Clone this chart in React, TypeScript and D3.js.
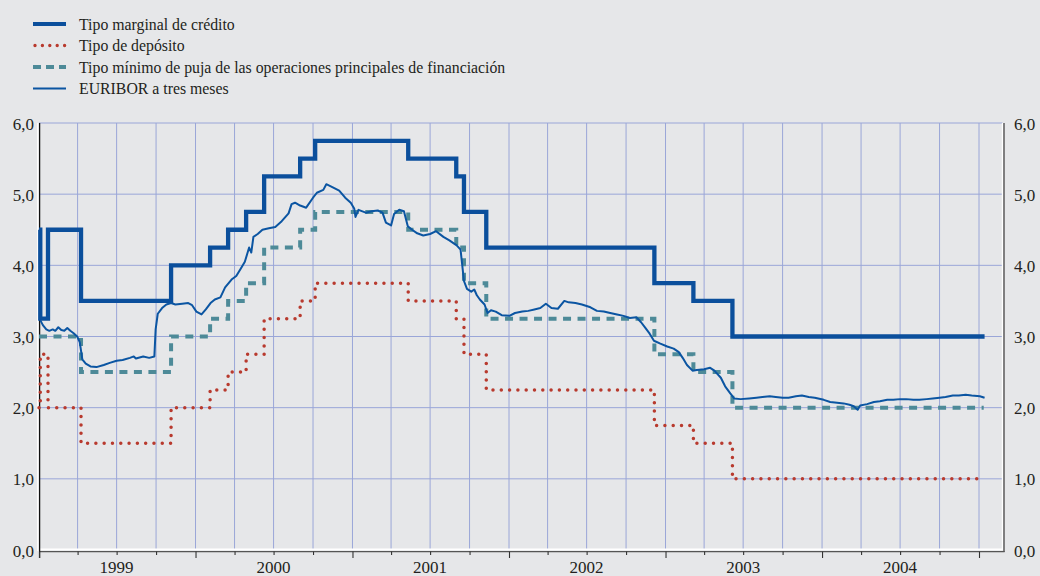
import React from 'react';
import * as d3 from 'd3';

const W = 1040;
const H = 576;

const legendLabels = [
  'Tipo marginal de crédito',
  'Tipo de depósito',
  'Tipo mínimo de puja de las operaciones principales de financiación',
  'EURIBOR a tres meses',
];

const yTicks = [0, 1, 2, 3, 4, 5, 6];
const yearLabels = ['1999', '2000', '2001', '2002', '2003', '2004'];

const marginalRate: [string, number][] = [
  ['1999-01-01', 4.5], ['1999-01-04', 3.25], ['1999-01-22', 4.5], ['1999-04-09', 3.5],
  ['1999-11-05', 4.0], ['2000-02-04', 4.25], ['2000-03-17', 4.5], ['2000-04-28', 4.75],
  ['2000-06-09', 5.25], ['2000-09-01', 5.5], ['2000-10-06', 5.75], ['2001-05-11', 5.5],
  ['2001-08-31', 5.25], ['2001-09-18', 4.75], ['2001-11-09', 4.25], ['2002-12-06', 3.75],
  ['2003-03-07', 3.5], ['2003-06-06', 3.0], ['2005-01-14', 3.0],
];

const depositRate: [string, number][] = [
  ['1999-01-01', 2.0], ['1999-01-04', 2.75], ['1999-01-22', 2.0], ['1999-04-09', 1.5],
  ['1999-11-05', 2.0], ['2000-02-04', 2.25], ['2000-03-17', 2.5], ['2000-04-28', 2.75],
  ['2000-06-09', 3.25], ['2000-09-01', 3.5], ['2000-10-06', 3.75], ['2001-05-11', 3.5],
  ['2001-08-31', 3.25], ['2001-09-18', 2.75], ['2001-11-09', 2.25], ['2002-12-06', 1.75],
  ['2003-03-07', 1.5], ['2003-06-06', 1.0], ['2005-01-12', 1.0],
];

const mroRate: [string, number][] = [
  ['1999-01-01', 3.0], ['1999-04-09', 2.5], ['1999-11-05', 3.0], ['2000-02-04', 3.25],
  ['2000-03-17', 3.5], ['2000-04-28', 3.75], ['2000-06-09', 4.25], ['2000-09-01', 4.5],
  ['2000-10-06', 4.75], ['2001-05-11', 4.5], ['2001-08-31', 4.25], ['2001-09-18', 3.75],
  ['2001-11-09', 3.25], ['2002-12-06', 2.75], ['2003-03-07', 2.5], ['2003-06-06', 2.0],
  ['2005-01-12', 2.0],
];

const euribor3m: [string, number][] = [
  ['1999-01-04', 3.23], ['1999-01-10', 3.16], ['1999-01-18', 3.10], ['1999-01-25', 3.08],
  ['1999-02-02', 3.10], ['1999-02-08', 3.08], ['1999-02-15', 3.13], ['1999-02-22', 3.09],
  ['1999-03-01', 3.08], ['1999-03-08', 3.12], ['1999-03-15', 3.08], ['1999-03-22', 3.05],
  ['1999-03-31', 3.00], ['1999-04-06', 2.92], ['1999-04-12', 2.68], ['1999-04-20', 2.62],
  ['1999-05-01', 2.58], ['1999-05-15', 2.57], ['1999-06-01', 2.60], ['1999-06-15', 2.63],
  ['1999-07-01', 2.66], ['1999-07-15', 2.67], ['1999-08-01', 2.70], ['1999-08-10', 2.72],
  ['1999-08-15', 2.69], ['1999-09-01', 2.72], ['1999-09-15', 2.70], ['1999-09-27', 2.72],
  ['1999-09-30', 3.10], ['1999-10-05', 3.32], ['1999-10-15', 3.40], ['1999-10-25', 3.45],
  ['1999-11-05', 3.47], ['1999-11-15', 3.45], ['1999-12-01', 3.46], ['1999-12-15', 3.47],
  ['1999-12-24', 3.44],
  ['2000-01-03', 3.35], ['2000-01-15', 3.31], ['2000-01-25', 3.38], ['2000-02-05', 3.47],
  ['2000-02-15', 3.52], ['2000-02-28', 3.55], ['2000-03-10', 3.69], ['2000-03-25', 3.80],
  ['2000-04-05', 3.85], ['2000-04-15', 3.95], ['2000-04-25', 4.05], ['2000-05-05', 4.25],
  ['2000-05-10', 4.18], ['2000-05-15', 4.40], ['2000-05-25', 4.44], ['2000-06-05', 4.50],
  ['2000-06-20', 4.52], ['2000-07-05', 4.54], ['2000-07-20', 4.62], ['2000-08-05', 4.73],
  ['2000-08-12', 4.86], ['2000-08-20', 4.88], ['2000-09-01', 4.84], ['2000-09-15', 4.81],
  ['2000-10-01', 4.95], ['2000-10-10', 5.02], ['2000-10-25', 5.06], ['2000-11-01', 5.14],
  ['2000-11-15', 5.10], ['2000-12-01', 5.05], ['2000-12-15', 4.95], ['2000-12-28', 4.88],
  ['2001-01-05', 4.80], ['2001-01-08', 4.68], ['2001-01-15', 4.78], ['2001-02-01', 4.74],
  ['2001-02-15', 4.76], ['2001-03-01', 4.77], ['2001-03-12', 4.74], ['2001-03-20', 4.60],
  ['2001-04-01', 4.56], ['2001-04-08', 4.72], ['2001-04-20', 4.78], ['2001-05-01', 4.76],
  ['2001-05-10', 4.55], ['2001-05-20', 4.50], ['2001-06-01', 4.45], ['2001-06-15', 4.42],
  ['2001-07-01', 4.44], ['2001-07-15', 4.48], ['2001-08-01', 4.40], ['2001-08-15', 4.35],
  ['2001-09-01', 4.28], ['2001-09-10', 4.22], ['2001-09-14', 4.00], ['2001-09-18', 3.78],
  ['2001-09-25', 3.67], ['2001-10-05', 3.63], ['2001-10-12', 3.66], ['2001-10-18', 3.58],
  ['2001-10-25', 3.52], ['2001-11-05', 3.45], ['2001-11-12', 3.33], ['2001-11-20', 3.37],
  ['2001-12-01', 3.35], ['2001-12-15', 3.30],
  ['2002-01-02', 3.29], ['2002-01-15', 3.33], ['2002-02-01', 3.35], ['2002-02-15', 3.36],
  ['2002-03-01', 3.38], ['2002-03-15', 3.40], ['2002-03-28', 3.46], ['2002-04-10', 3.40],
  ['2002-04-25', 3.39], ['2002-05-10', 3.50], ['2002-05-20', 3.48], ['2002-06-05', 3.47],
  ['2002-06-20', 3.45], ['2002-07-10', 3.41], ['2002-07-25', 3.36], ['2002-08-10', 3.35],
  ['2002-08-25', 3.33], ['2002-09-10', 3.31], ['2002-09-25', 3.29], ['2002-10-10', 3.26],
  ['2002-10-25', 3.27], ['2002-11-05', 3.20], ['2002-11-15', 3.12], ['2002-11-25', 3.04],
  ['2002-12-05', 2.94], ['2002-12-20', 2.90],
  ['2003-01-05', 2.86], ['2003-01-20', 2.83], ['2003-02-01', 2.78], ['2003-02-10', 2.70],
  ['2003-02-20', 2.60], ['2003-03-05', 2.52], ['2003-03-15', 2.53], ['2003-04-01', 2.54],
  ['2003-04-15', 2.56], ['2003-04-25', 2.52], ['2003-05-10', 2.42], ['2003-05-20', 2.30],
  ['2003-06-01', 2.20], ['2003-06-10', 2.13], ['2003-06-25', 2.12], ['2003-07-15', 2.13],
  ['2003-08-01', 2.14], ['2003-08-15', 2.15], ['2003-09-01', 2.16], ['2003-09-15', 2.15],
  ['2003-10-01', 2.14], ['2003-10-15', 2.14], ['2003-11-01', 2.16], ['2003-11-15', 2.17],
  ['2003-12-01', 2.15], ['2003-12-15', 2.14],
  ['2004-01-05', 2.11], ['2004-01-20', 2.08], ['2004-02-05', 2.07], ['2004-02-20', 2.06],
  ['2004-03-05', 2.04], ['2004-03-15', 2.02], ['2004-03-24', 1.97], ['2004-03-30', 2.03],
  ['2004-04-15', 2.05], ['2004-05-01', 2.08], ['2004-05-15', 2.09], ['2004-06-01', 2.11],
  ['2004-06-15', 2.11], ['2004-07-01', 2.12], ['2004-07-15', 2.12], ['2004-08-01', 2.11],
  ['2004-08-15', 2.11], ['2004-09-01', 2.12], ['2004-09-15', 2.13], ['2004-10-01', 2.14],
  ['2004-10-15', 2.15], ['2004-11-01', 2.17], ['2004-11-15', 2.17], ['2004-12-01', 2.18],
  ['2004-12-15', 2.17], ['2005-01-03', 2.16], ['2005-01-14', 2.14],
];

const parse = d3.timeParse('%Y-%m-%d');
const FONT = '"Liberation Serif", "Times New Roman", serif';

const COL_MARGINAL = '#0b4f9c';
const COL_DEPOSIT = '#b83a2e';
const COL_MRO = '#4d8a98';
const COL_EURIBOR = '#0b55a2';
const COL_GRID = '#9aa6d8';

export default function App() {
  const x = d3.scaleTime()
    .domain([parse('1999-01-01')!, parse('2005-01-01')!])
    .range([39, 979]);
  const y = d3.scaleLinear().domain([0, 6]).range([550, 123]);
  const xRight = 1002.5;
  const xLeft = x(parse('1999-01-01')!);

  const toPts = (arr: [string, number][]) => arr.map(([d, v]) => ({ d: parse(d)!, v }));
  const stepLine = d3.line<{ d: Date; v: number }>()
    .x(p => x(p.d)).y(p => y(p.v)).curve(d3.curveStepAfter);
  const linLine = d3.line<{ d: Date; v: number }>()
    .x(p => x(p.d)).y(p => y(p.v)).curve(d3.curveLinear);

  const quarters = d3.timeMonth.every(3)!.range(parse('1999-01-01')!, parse('2005-01-02')!);
  const years = d3.timeYear.range(parse('1999-01-01')!, parse('2005-01-02')!);

  const legendY = [24, 45.5, 67, 88.5];

  return (
    <svg width={W} height={H} style={{ position: 'absolute', left: 0, top: 0, background: '#e6e7e9' }}
      fontFamily={FONT}>
      <rect x={0} y={0} width={W} height={H} fill="#e6e7e9" />

      {/* legend */}
      <g>
        <line x1={33} x2={66} y1={legendY[0]} y2={legendY[0]} stroke={COL_MARGINAL} strokeWidth={4} />
        <line x1={35} x2={66} y1={legendY[1]} y2={legendY[1]} stroke={COL_DEPOSIT} strokeWidth={3.4}
          strokeDasharray="0 7.4" strokeLinecap="round" />
        <line x1={33} x2={66} y1={legendY[2]} y2={legendY[2]} stroke={COL_MRO} strokeWidth={4}
          strokeDasharray="8 5" />
        <line x1={33} x2={66} y1={legendY[3]} y2={legendY[3]} stroke={COL_EURIBOR} strokeWidth={2} />
        {legendLabels.map((t, i) => (
          <text key={t} x={79} y={legendY[i] + 5.5} fontSize={15.8} fill="#231f20">{t}</text>
        ))}
      </g>

      {/* grid */}
      <g>
        {yTicks.filter(v => v > 0).map(v => (
          <line key={'h' + v} x1={xLeft} x2={xRight} y1={y(v)} y2={y(v)} stroke={COL_GRID} strokeWidth={1} />
        ))}
        {quarters.slice(1).map(q => (
          <line key={'v' + q.getTime()} x1={x(q)} x2={x(q)} y1={y(6)} y2={y(0)} stroke={COL_GRID} strokeWidth={1} />
        ))}
      </g>

      {/* frame */}
      <line x1={37.8} x2={37.8} y1={y(6)} y2={551} stroke="#ffffff" strokeWidth={1.4} />
      <line x1={xRight} x2={xRight} y1={y(6)} y2={550} stroke="#ffffff" strokeWidth={1.4} />
      <line x1={1004} x2={1004} y1={y(6)} y2={552} stroke="#3a3a3a" strokeWidth={1.2} />
      <line x1={xLeft} x2={xRight} y1={549.4} y2={549.4} stroke="#ffffff" strokeWidth={1.8} />
      <line x1={xLeft} x2={1004.6} y1={551.6} y2={551.6} stroke="#555555" strokeWidth={1.1} />
      <line x1={xLeft + 0.6} x2={xLeft + 0.6} y1={y(6)} y2={558} stroke="#111111" strokeWidth={1.3} />
      {quarters.map(q => {
        const isYear = q.getMonth() === 0;
        return (
          <line key={'t' + q.getTime()} x1={x(q) + 0.5} x2={x(q) + 0.5} y1={551.6} y2={isYear ? 558 : 555}
            stroke="#333333" strokeWidth={1.1} />
        );
      })}

      {/* y labels */}
      {yTicks.map(v => (
        <g key={'yl' + v}>
          <text x={34} y={y(v) + 6.5} textAnchor="end" fontSize={17} fill="#231f20">{v.toFixed(1).replace('.', ',')}</text>
          <text x={1014} y={y(v) + 6.5} textAnchor="start" fontSize={17} fill="#231f20">{v.toFixed(1).replace('.', ',')}</text>
        </g>
      ))}

      {/* x labels */}
      {years.slice(0, yearLabels.length).map((yr, i) => {
        const mid = new Date(yr.getFullYear(), 6, 1);
        return (
          <text key={'xl' + i} x={x(mid)} y={573} textAnchor="middle" fontSize={17} fill="#231f20">{yearLabels[i]}</text>
        );
      })}

      {/* series */}
      <path d={stepLine(toPts(depositRate))!} fill="none" stroke={COL_DEPOSIT} strokeWidth={3.5}
        strokeDasharray="0 8.3" strokeLinecap="round" />
      <path d={stepLine(toPts(mroRate))!} fill="none" stroke={COL_MRO} strokeWidth={4}
        strokeDasharray="8 6.5" />
      <path d={stepLine(toPts(marginalRate))!} fill="none" stroke={COL_MARGINAL} strokeWidth={4.3} />
      <path d={linLine(toPts(euribor3m))!} fill="none" stroke={COL_EURIBOR} strokeWidth={2}
        strokeLinejoin="round" />
    </svg>
  );
}
